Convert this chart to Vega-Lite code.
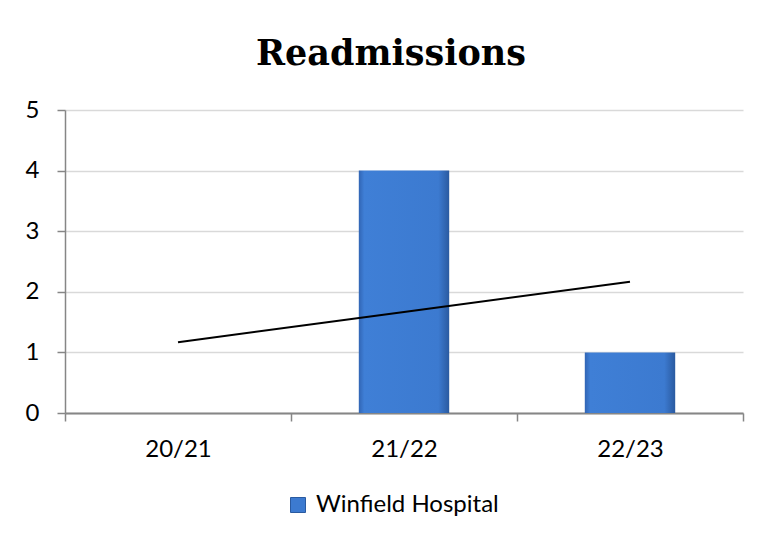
{
  "$schema": "https://vega.github.io/schema/vega-lite/v6.json",
  "width": 678,
  "height": 303,
  "autosize": {"type": "none"},
  "padding": {"left": 65, "top": 110, "right": 20, "bottom": 131},
  "background": "white",
  "title": {
    "text": "Readmissions",
    "font": "DejaVu Serif",
    "fontSize": 35,
    "fontWeight": "bold",
    "color": "black",
    "anchor": "middle",
    "baseline": "alphabetic",
    "dx": -13,
    "offset": -2
  },
  "data": {
    "values": [
      {"year": "20/21", "series": "Winfield Hospital", "readmissions": 0, "trend": 1.167},
      {"year": "21/22", "series": "Winfield Hospital", "readmissions": 4, "trend": 1.667},
      {"year": "22/23", "series": "Winfield Hospital", "readmissions": 1, "trend": 2.167}
    ]
  },
  "encoding": {
    "x": {
      "field": "year",
      "type": "ordinal",
      "sort": null,
      "scale": {"paddingInner": 0, "paddingOuter": 0},
      "axis": {
        "title": null,
        "labelAngle": 0,
        "labelFont": "Lato",
        "labelFontSize": 24,
        "labelColor": "black",
        "labelPadding": 16,
        "tickBand": "extent",
        "tickSize": 8,
        "tickColor": "#868686",
        "tickWidth": 1.5,
        "domainColor": "#868686",
        "domainWidth": 2,
        "grid": false
      }
    }
  },
  "layer": [
    {
      "mark": {
        "type": "bar",
        "width": {"band": 0.4},
        "fill": {
          "gradient": "linear",
          "x1": 0, "y1": 0, "x2": 1, "y2": 0,
          "stops": [
            {"offset": 0, "color": "#3165b4"},
            {"offset": 0.06, "color": "#3f7fd6"},
            {"offset": 0.88, "color": "#3c7ad0"},
            {"offset": 1, "color": "#2a5aa0"}
          ]
        }
      },
      "encoding": {
        "y": {
          "field": "readmissions",
          "type": "quantitative",
          "scale": {"domain": [0, 5]},
          "axis": {
            "title": null,
            "values": [0, 1, 2, 3, 4, 5],
            "format": "d",
            "labelFont": "Lato",
            "labelFontSize": 24,
            "labelColor": "black",
            "labelPadding": 18,
            "tickSize": 8,
            "tickColor": "#868686",
            "tickWidth": 1.5,
            "domainColor": "#868686",
            "domainWidth": 1.5,
            "gridColor": "#d9d9d9",
            "gridWidth": 1.5
          }
        },
        "color": {
          "field": "series",
          "type": "nominal",
          "scale": {"range": ["#3c7ad0"]},
          "legend": {
            "title": null,
            "orient": "none",
            "legendX": 221,
            "legendY": 383,
            "symbolType": "square",
            "symbolSize": 225,
            "symbolStrokeColor": "#2a5aa0",
            "symbolStrokeWidth": 1,
            "labelFont": "Lato",
            "labelFontSize": 24,
            "labelLimit": 400,
            "labelColor": "black",
            "labelOffset": 6
          }
        }
      }
    },
    {
      "mark": {"type": "line", "color": "black", "strokeWidth": 2},
      "encoding": {
        "y": {"field": "trend", "type": "quantitative"}
      }
    }
  ],
  "config": {
    "view": {"stroke": null}
  }
}
